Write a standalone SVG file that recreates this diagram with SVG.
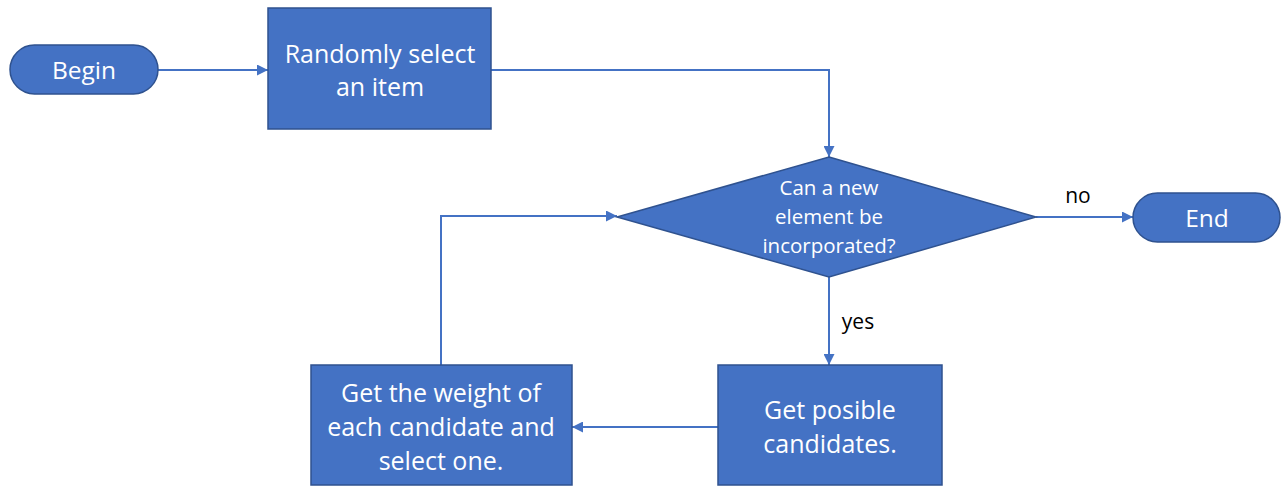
<svg xmlns="http://www.w3.org/2000/svg" width="1282" height="488" viewBox="0 0 1282 488">
<defs>
<marker id="ah" viewBox="0 0 10 10" refX="10" refY="5" markerWidth="11" markerHeight="11" markerUnits="userSpaceOnUse" orient="auto">
<path d="M0,0 L10,5 L0,10 z" fill="#4472C4"/>
</marker>
</defs>
<style>
.shape{fill:#4472C4;stroke:#2F528F;stroke-width:1.5}
.t{font-family:"Open Sans","Noto Sans",sans-serif;fill:#fff;text-anchor:middle}
.lbl{font-family:"Open Sans","Noto Sans",sans-serif;fill:#000;font-size:21px;text-anchor:middle}
.c{fill:none;stroke:#4472C4;stroke-width:2;marker-end:url(#ah)}
</style>
<rect width="1282" height="488" fill="#fff"/>
<g id="connectors">
<path class="c" d="M158,70 H268"/>
<path class="c" d="M491,70 H829 V157"/>
<path class="c" d="M1036,217 H1133"/>
<path class="c" d="M829,277 V365"/>
<path class="c" d="M718,427 H572"/>
<path class="c" d="M441,365 V216 H617"/>
<text class="lbl" x="1078" y="203">no</text>
<text class="lbl" x="858" y="329">yes</text>
</g>
<g id="begin">
<rect class="shape" x="10" y="45" width="148" height="49" rx="24.5"/>
<text class="t" x="84" y="79" font-size="24.5">Begin</text>
</g>
<g id="randomly">
<rect class="shape" x="268" y="8" width="223" height="121"/>
<text class="t" x="380" y="63" font-size="25">Randomly select</text>
<text class="t" x="380" y="96" font-size="25">an item</text>
</g>
<g id="decision">
<path class="shape" d="M829,157 L1036,217 L829,277 L617,217 z"/>
<text class="t" x="829" y="195" font-size="20.5">Can a new</text>
<text class="t" x="829" y="224" font-size="20.5">element be</text>
<text class="t" x="829" y="253" font-size="20.5">incorporated?</text>
</g>
<g id="end">
<rect class="shape" x="1133" y="193" width="147" height="49" rx="24.5"/>
<text class="t" x="1207" y="227" font-size="24.5">End</text>
</g>
<g id="candidates">
<rect class="shape" x="718" y="365" width="224" height="120"/>
<text class="t" x="830" y="419" font-size="25">Get posible</text>
<text class="t" x="830" y="453" font-size="25">candidates.</text>
</g>
<g id="weight">
<rect class="shape" x="311" y="365" width="261" height="120"/>
<text class="t" x="441" y="402" font-size="25">Get the weight of</text>
<text class="t" x="441" y="436" font-size="25">each candidate and</text>
<text class="t" x="441" y="470" font-size="25">select one.</text>
</g>
</svg>
